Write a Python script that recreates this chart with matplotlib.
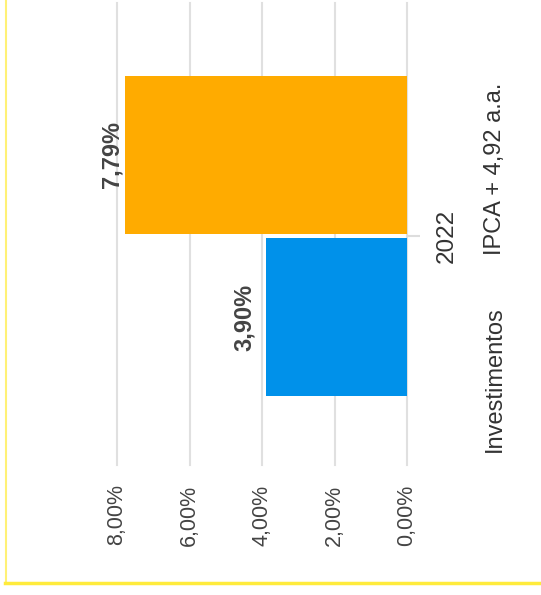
import matplotlib
matplotlib.use('Agg')
from matplotlib import pyplot as plt
from matplotlib.lines import Line2D

# data
categories = ['2022']
series = ['Investimentos', 'IPCA + 4,92 a.a.']
values = [3.90, 7.79]
colors = ['#0091EA', '#FFAB00']
ticks = [0, 2, 4, 6, 8]


def pct(v):
    return f'{v:.2f}'.replace('.', ',') + '%'


plt.rcParams['font.family'] = ['Liberation Sans', 'DejaVu Sans']

W, H = 541, 595
fig = plt.figure(figsize=(W / 100, H / 100), dpi=100)
ax = fig.add_axes([117 / W, 1 - 465 / H, (407 - 117) / W, (465 - 3) / H])

bar_h = 0.395
offsets = [-0.2025, 0.2025]
label_shift = [-7, -1]
for i, name in enumerate(series):
    ax.barh(0 + offsets[i], values[i], height=bar_h, color=colors[i], zorder=2)
    ax.annotate(pct(values[i]), xy=(values[i], offsets[i]), xytext=(label_shift[i], 0),
                textcoords='offset points', ha='right', va='center', rotation=90,
                fontsize=17, fontweight='bold', color='#444444')

ax.set_xlim(8, 0)
ax.set_ylim(-0.5725, 0.5825)
ax.set_xticks(ticks)
ax.set_xticklabels([pct(t) for t in ticks], rotation=90, fontsize=15.5, color='#444444')
ax.tick_params(axis='x', length=0, pad=14)
ax.grid(axis='x', color='#e0e0e0', lw=1.5, zorder=0)
for g in ax.get_xgridlines():
    g.set_clip_on(False)

ax.yaxis.tick_right()
ax.set_yticks([0])
ax.set_yticklabels(categories, rotation=90, fontsize=17.5, color='#333333', va='center')
ax.tick_params(axis='y', length=9.5, width=1.5, color='#dddddd', pad=11)

for s in ax.spines.values():
    s.set_visible(False)

# legend
legend_bottom = [452, 255]
for i, name in enumerate(series):
    fig.text(495 / W, 1 - legend_bottom[i] / H, name, rotation=90, ha='center', va='bottom',
             fontsize=17, color='#333333')

# yellow frame
fig.add_artist(Line2D([5.5 / W, 5.5 / W], [1 - 582 / H, 1], color='#FFF176', lw=1.5))
fig.add_artist(Line2D([5 / W, 1], [1 - 583 / H, 1 - 583 / H], color='#FFEB3B', lw=2.5))

plt.savefig('out.png', dpi=100)
